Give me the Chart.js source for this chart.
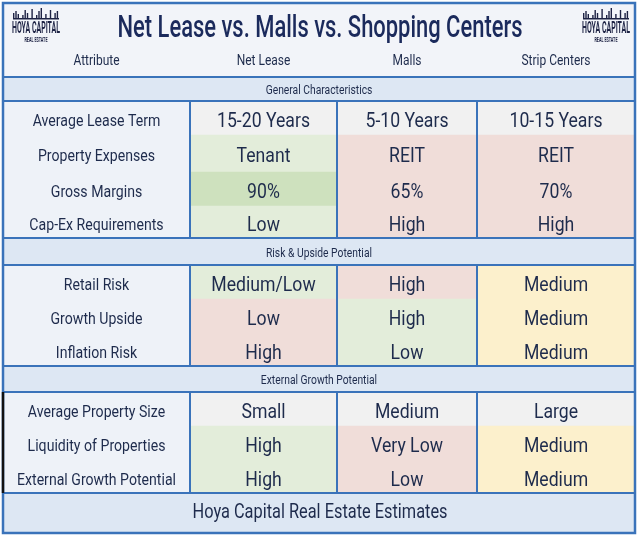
<!DOCTYPE html>
<html><head><meta charset="utf-8">
<script src="https://cdn.jsdelivr.net/npm/chart.js@4.4.1/dist/chart.umd.min.js"></script>
<style>html,body{margin:0;padding:0;background:#fff;}canvas{display:block;}</style>
</head><body>
<canvas id="c" width="640" height="536"></canvas>
<script>
// ---------- DATA ----------
const title = 'Net Lease vs. Malls vs. Shopping Centers';
const columns = ['Attribute', 'Net Lease', 'Malls', 'Strip Centers'];
const sections = ['General Characteristics', 'Risk & Upside Potential', 'External Growth Potential'];
const attributes = ['Average Lease Term', 'Property Expenses', 'Gross Margins', 'Cap-Ex Requirements',
  'Retail Risk', 'Growth Upside', 'Inflation Risk',
  'Average Property Size', 'Liquidity of Properties', 'External Growth Potential'];
const netLease = ['15-20 Years', 'Tenant', '90%', 'Low', 'Medium/Low', 'Low', 'High', 'Small', 'High', 'High'];
const malls = ['5-10 Years', 'REIT', '65%', 'High', 'High', 'High', 'Low', 'Medium', 'Very Low', 'Low'];
const stripCenters = ['10-15 Years', 'REIT', '70%', 'High', 'Medium', 'Medium', 'Medium', 'Large', 'Medium', 'Medium'];
const netLeaseRating = ['neutral', 'good', 'best', 'good', 'good', 'bad', 'bad', 'neutral', 'good', 'good'];
const mallsRating = ['neutral', 'bad', 'bad', 'bad', 'bad', 'good', 'good', 'neutral', 'bad', 'bad'];
const stripRating = ['neutral', 'bad', 'bad', 'bad', 'mid', 'mid', 'mid', 'neutral', 'mid', 'mid'];
const footnote = 'Hoya Capital Real Estate Estimates';
const logoLines = ['HOYA CAPITAL', 'REAL ESTATE'];

// ---------- LAYOUT / STYLE ----------
const colEdges = [3, 190, 337, 477, 635];
const rowBounds = [[101,135],[135,172],[172,206],[206,238],[265,299],[299,334],[334,366],[392,426],[426,461],[461,493]];
const bandBounds = [[77,101],[238,265],[366,392]];
const titleBounds = [3,77];
const footBounds = [493,533];
const groupBounds = [[101,238],[265,366],[392,493]];
const ratingColors = { neutral:'#f1f1f1', good:'#e3edda', best:'#cee1be', bad:'#f0ddd9', mid:'#fcf0cc' };
const attrBg = '#eef2f8';
const bandBg = '#dde7f3';
const titleBg = '#f2f4f9';
const lineColor = '#3a73ba';
const textColor = '#1e2b4c';
const titleColor = '#1b2a5c';
const skyline = [5,7,4,6,3,8,5,4,9,6,3,7,10,5,4,6,8,4,5,7];

const valueCols = [netLease, malls, stripCenters];
const ratingCols = [netLeaseRating, mallsRating, stripRating];
const fullX = (colEdges[0] + colEdges[4]) / 2;
const fullW = colEdges[4] - colEdges[0];

const frameData = [titleBounds, ...bandBounds, footBounds].map(b => ({ x: fullX, y: [b[0], b[1]] }));
const frameColors = [titleBg, bandBg, bandBg, bandBg, bandBg];

const datasets = [{
  label: 'frame', data: frameData, backgroundColor: frameColors,
  barThickness: fullW, grouped: false, borderWidth: 0
}];
for (let c = 0; c < 4; c++) {
  const cx = (colEdges[c] + colEdges[c + 1]) / 2;
  datasets.push({
    label: columns[c],
    data: rowBounds.map(b => ({ x: cx, y: [b[0], b[1]] })),
    backgroundColor: c === 0 ? attributes.map(() => attrBg) : ratingCols[c - 1].map(r => ratingColors[r]),
    barThickness: colEdges[c + 1] - colEdges[c] + 0.5,
    grouped: false, borderWidth: 0
  });
}

function drawText(ctx, text, cx, cy, size, weight, factor, color) {
  ctx.save();
  ctx.font = weight + ' ' + size + 'px Roboto';
  ctx.fillStyle = color;
  ctx.textAlign = 'center';
  ctx.textBaseline = 'alphabetic';
  ctx.translate(cx, cy + size * 0.355);
  ctx.scale(factor, 1);
  ctx.fillText(text, 0, 0);
  ctx.restore();
}
function calib(ctx, sample, size, weight, target) {
  ctx.save();
  ctx.font = weight + ' ' + size + 'px Roboto';
  const w = ctx.measureText(sample).width;
  ctx.restore();
  return target / w;
}

const tablePlugin = {
  id: 'tableText',
  afterDatasetsDraw(chart) {
    const ctx = chart.ctx;
    const X = v => chart.scales.x.getPixelForValue(v);
    const Y = v => chart.scales.y.getPixelForValue(v);
    // lines
    ctx.save();
    ctx.strokeStyle = lineColor;
    ctx.lineWidth = 2;
    [titleBounds[1], ...bandBounds.flatMap(b => b), footBounds[0]].forEach(y => {
      ctx.beginPath(); ctx.moveTo(X(colEdges[0]), Y(y)); ctx.lineTo(X(colEdges[4]), Y(y)); ctx.stroke();
    });
    groupBounds.forEach(g => {
      for (let c = 1; c < 4; c++) {
        ctx.beginPath(); ctx.moveTo(X(colEdges[c]), Y(g[0])); ctx.lineTo(X(colEdges[c]), Y(g[1])); ctx.stroke();
      }
    });
    ctx.lineWidth = 2.5;
    ctx.strokeRect(X(colEdges[0]), Y(titleBounds[0]), X(colEdges[4]) - X(colEdges[0]), Y(footBounds[1]) - Y(titleBounds[0]));
    ctx.strokeStyle = '#111';
    ctx.beginPath(); ctx.moveTo(X(colEdges[0]), Y(groupBounds[2][0])); ctx.lineTo(X(colEdges[0]), Y(groupBounds[2][1])); ctx.stroke();
    ctx.restore();

    // title
    const fTitle = calib(ctx, title, 31, 500, 405);
    drawText(ctx, title, X(320), Y(26), 31, 500, fTitle, titleColor);
    // logos
    const fLogo = calib(ctx, logoLines[0], 17, 'bold', 48);
    const fLogo2 = calib(ctx, logoLines[1], 8, 'bold', 23);
    [36, 606].forEach(lx => {
      drawText(ctx, logoLines[0], X(lx), Y(27), 17, 'bold', fLogo, '#1d2244');
      drawText(ctx, logoLines[1], X(lx), Y(39), 8, 'bold', fLogo2, '#1d2244');
      ctx.save();
      ctx.fillStyle = '#1d2244';
      const x0 = X(lx - 23);
      ctx.fillRect(x0, Y(18), 46, 1.5);
      skyline.forEach((h, i) => { if (i % 2 === 0 || h > 6) ctx.fillRect(x0 + i * 2.3, Y(18) - h, 1.4, h); });
      ctx.restore();
    });
    // header labels
    const fHead = calib(ctx, columns[3], 14, 400, 69);
    columns.forEach((col, c) => drawText(ctx, col, X((colEdges[c] + colEdges[c + 1]) / 2), Y(60), 14, 400, fHead, textColor));
    // bands
    const fBand = calib(ctx, sections[1], 12, 400, 106);
    sections.forEach((s, i) => drawText(ctx, s, X(fullX), Y((bandBounds[i][0] + bandBounds[i][1]) / 2 + 1), 12, 400, fBand, textColor));
    // attributes and cells
    const fAttr = calib(ctx, attributes[9], 17, 400, 159);
    const fCell = calib(ctx, netLease[0], 20, 400, 93);
    rowBounds.forEach((b, r) => {
      const cy = (b[0] + b[1]) / 2 + 1.5;
      drawText(ctx, attributes[r], X((colEdges[0] + colEdges[1]) / 2), Y(cy), 17, 400, fAttr, textColor);
      for (let c = 0; c < 3; c++) {
        drawText(ctx, valueCols[c][r], X((colEdges[c + 1] + colEdges[c + 2]) / 2), Y(cy), 20, 400, fCell, textColor);
      }
    });
    // footer
    const fFoot = calib(ctx, footnote, 21, 400, 255);
    drawText(ctx, footnote, X(320), Y(511), 21, 400, fFoot, textColor);
  }
};

new Chart(document.getElementById('c'), {
  type: 'bar',
  data: { datasets },
  options: {
    responsive: false,
    animation: false,
    devicePixelRatio: 1,
    events: [],
    layout: { padding: 0 },
    indexAxis: 'x',
    scales: {
      x: { type: 'linear', min: 0, max: 640, display: false, offset: false },
      y: { type: 'linear', min: 0, max: 536, reverse: true, display: false }
    },
    plugins: { legend: { display: false }, tooltip: { enabled: false } }
  },
  plugins: [tablePlugin]
});
</script>
</body></html>
